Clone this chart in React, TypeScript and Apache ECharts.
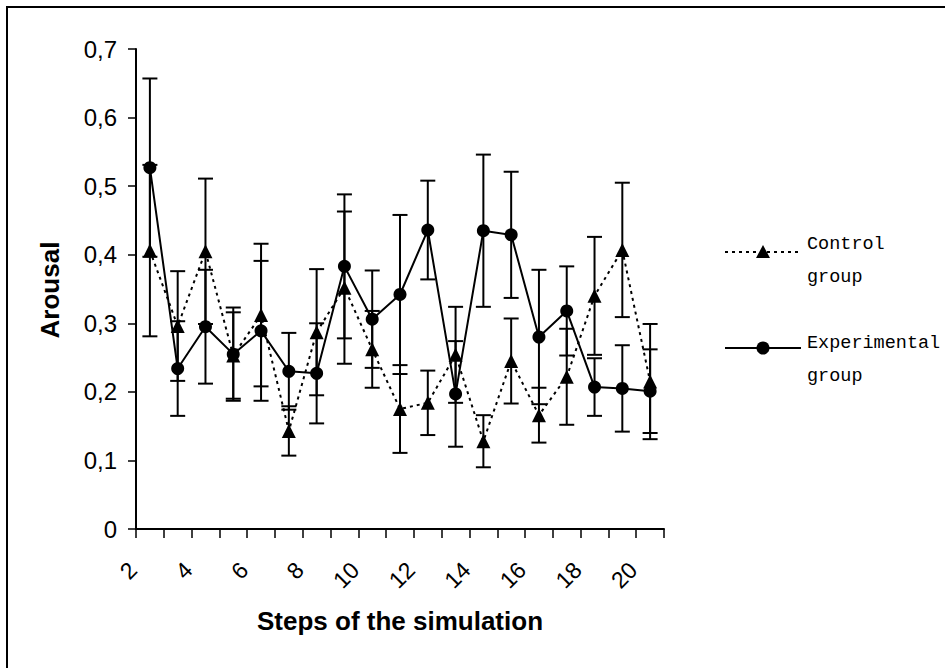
import React, { useEffect, useRef } from "react";
import * as echarts from "echarts";

const categories = ["2", "3", "4", "5", "6", "7", "8", "9", "10", "11", "12", "13", "14", "15", "16", "17", "18", "19", "20"];
const controlMean = [0.406, 0.296, 0.405, 0.253, 0.312, 0.143, 0.287, 0.352, 0.262, 0.175, 0.184, 0.254, 0.128, 0.245, 0.166, 0.222, 0.34, 0.407, 0.215];
const controlErr = [0.125, 0.08, 0.106, 0.063, 0.104, 0.036, 0.092, 0.111, 0.056, 0.064, 0.047, 0.07, 0.038, 0.062, 0.04, 0.07, 0.086, 0.098, 0.084];
const experimentalMean = [0.527, 0.234, 0.295, 0.255, 0.289, 0.23, 0.227, 0.383, 0.306, 0.342, 0.436, 0.197, 0.435, 0.429, 0.28, 0.318, 0.207, 0.205, 0.201];
const experimentalErr = [0.13, 0.069, 0.083, 0.068, 0.102, 0.056, 0.073, 0.105, 0.071, 0.116, 0.072, 0.077, 0.111, 0.092, 0.098, 0.065, 0.042, 0.063, 0.061];
const yTicks = [0, 0.1, 0.2, 0.3, 0.4, 0.5, 0.6, 0.7];
const xTitle = "Steps of the simulation";
const yTitle = "Arousal";

const SANS = '"Liberation Sans", Arial, sans-serif';
const MONO = '"Liberation Mono", "Courier New", monospace';

function errorSeries(mean: number[], err: number[], z: number) {
  return {
    type: "custom",
    z,
    silent: true,
    data: mean.map((m, i) => [i, m - err[i], m + err[i]]),
    renderItem: (params: any, api: any) => {
      const lo = api.coord([api.value(0), api.value(1)]);
      const hi = api.coord([api.value(0), api.value(2)]);
      const half = 7.5;
      const style = { stroke: "#000", lineWidth: 2 };
      return {
        type: "group",
        children: [
          { type: "line", shape: { x1: lo[0], y1: lo[1], x2: hi[0], y2: hi[1] }, style },
          { type: "line", shape: { x1: hi[0] - half, y1: hi[1], x2: hi[0] + half, y2: hi[1] }, style },
          { type: "line", shape: { x1: lo[0] - half, y1: lo[1], x2: lo[0] + half, y2: lo[1] }, style },
        ],
      };
    },
  };
}

export default function App() {
  const ref = useRef<HTMLDivElement>(null);
  useEffect(() => {
    if (!ref.current) return;
    const chart = echarts.init(ref.current, null, { renderer: "svg" });
    const option: any = {
      animation: false,
      backgroundColor: "#fff",
      grid: { left: 136, right: 281, top: 49, bottom: 139, containLabel: false },
      xAxis: {
        type: "category",
        data: categories,
        boundaryGap: true,
        axisLine: { lineStyle: { color: "#000", width: 2 } },
        axisTick: { show: true, inside: false, length: 9, interval: 0, alignWithLabel: false, lineStyle: { color: "#000", width: 1.5 } },
        axisLabel: {
          interval: 1,
          rotate: 45,
          margin: 20,
          padding: [0, 24, 0, 0],
          fontFamily: SANS,
          fontSize: 23,
          color: "#000",
        },
        splitLine: { show: false },
      },
      yAxis: {
        type: "value",
        min: 0,
        max: 0.7,
        interval: 0.1,
        axisLine: { show: true, lineStyle: { color: "#000", width: 2 } },
        axisTick: { show: true, inside: false, length: 8, lineStyle: { color: "#000", width: 1.5 } },
        axisLabel: {
          margin: 19,
          fontFamily: SANS,
          fontSize: 24,
          color: "#000",
          formatter: (v: number) => {
            const t = yTicks.find((k) => Math.abs(k - v) < 1e-9);
            const val = t === undefined ? v : t;
            return val === 0 ? "0" : val.toFixed(1).replace(".", ",");
          },
        },
        splitLine: { show: false },
      },
      series: [
        errorSeries(controlMean, controlErr, 1),
        errorSeries(experimentalMean, experimentalErr, 1),
        {
          name: "Control group",
          type: "line",
          data: controlMean,
          z: 3,
          symbol: "triangle",
          symbolSize: 14,
          showAllSymbol: true,
          itemStyle: { color: "#000" },
          lineStyle: { color: "#000", width: 2, type: [3, 4] },
        },
        {
          name: "Experimental group",
          type: "line",
          data: experimentalMean,
          z: 4,
          symbol: "circle",
          symbolSize: 13,
          showAllSymbol: true,
          itemStyle: { color: "#000" },
          lineStyle: { color: "#000", width: 2 },
        },
      ],
      graphic: [
        { type: "rect", shape: { x: 7, y: 7, width: 1200, height: 1200 }, style: { fill: "none", stroke: "#000", lineWidth: 2 }, silent: true, z: 0 },
        { type: "text", x: 400, y: 621, style: { text: xTitle, font: `bold 26px ${SANS}`, fill: "#000", textAlign: "center", textVerticalAlign: "middle" } },
        { type: "text", x: 50, y: 290, rotation: Math.PI / 2, style: { text: yTitle, font: `bold 26px ${SANS}`, fill: "#000", textAlign: "center", textVerticalAlign: "middle" } },
        { type: "line", shape: { x1: 725, y1: 252, x2: 801, y2: 252 }, style: { stroke: "#000", lineWidth: 2, lineDash: [3, 4] } },
        { type: "polygon", shape: { points: [[763, 245], [770, 258], [756, 258]] }, style: { fill: "#000" } },
        { type: "text", x: 807, y: 228, style: { text: "Control\ngroup", font: `18.5px ${MONO}`, lineHeight: 33, fill: "#000", textVerticalAlign: "top" } },
        { type: "line", shape: { x1: 725, y1: 348, x2: 801, y2: 348 }, style: { stroke: "#000", lineWidth: 2 } },
        { type: "circle", shape: { cx: 763, cy: 348, r: 6.5 }, style: { fill: "#000" } },
        { type: "text", x: 807, y: 327, style: { text: "Experimental\ngroup", font: `18.5px ${MONO}`, lineHeight: 33, fill: "#000", textVerticalAlign: "top" } },
      ],
    };
    chart.setOption(option);
    return () => chart.dispose();
  }, []);
  return <div ref={ref} style={{ position: "fixed", left: 0, top: 0, width: 945, height: 668 }} />;
}
